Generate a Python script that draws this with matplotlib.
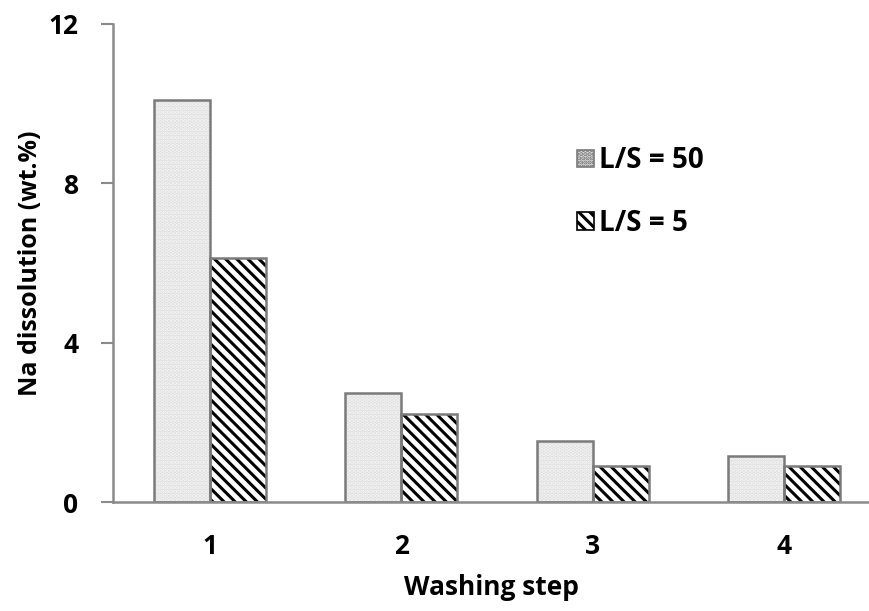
import matplotlib
matplotlib.use("Agg")
import matplotlib.pyplot as plt
import numpy as np
from matplotlib.patches import Patch

steps = ["1", "2", "3", "4"]
ls50 = [10.1, 2.75, 1.53, 1.17]
ls5 = [6.13, 2.22, 0.9, 0.9]
y_ticks = [0, 4, 8, 12]

plt.rcParams['font.family'] = ['Open Sans', 'DejaVu Sans']
plt.rcParams['hatch.linewidth'] = 2.2

fig = plt.figure(figsize=(8.7, 6.11), dpi=100)
ax = fig.add_axes([0.13, 0.178, 0.87, 0.783])

x = np.arange(1, len(steps) + 1)
w = 0.293
gray_face = '#dedede'
edge = '#7a7a7a'

# L/S = 50 : light dotted gray
ax.bar(x - w / 2, ls50, w, color=gray_face, hatch='....', edgecolor='#f4f4f4', linewidth=0, zorder=2)
ax.bar(x - w / 2, ls50, w, fill=False, edgecolor=edge, linewidth=1.8, zorder=3)
# L/S = 5 : black diagonal hatch
ax.bar(x + w / 2, ls5, w, color='white', hatch='\\\\\\', edgecolor='black', linewidth=0, zorder=2)
ax.bar(x + w / 2, ls5, w, fill=False, edgecolor=edge, linewidth=1.8, zorder=3)

ax.set_xlim(0.493, 4.45)
ax.set_ylim(0, 12)
ax.set_yticks(y_ticks)
ax.set_xticks(x)
ax.set_xticklabels(steps)

for s in ['top', 'right']:
    ax.spines[s].set_visible(False)
for s in ['left', 'bottom']:
    ax.spines[s].set_color('#8a8a8a')
    ax.spines[s].set_linewidth(1.8)
    ax.spines[s].set_zorder(4)

ax.tick_params(axis='y', length=9, width=1.5, color='#8a8a8a', labelsize=19, pad=16)
ax.tick_params(axis='x', length=0, labelsize=19, pad=22)
for lab in ax.get_xticklabels() + ax.get_yticklabels():
    lab.set_fontweight('bold')

ax.set_ylabel('Na dissolution (wt.%)', fontsize=18, fontweight='bold', labelpad=4)
ax.set_xlabel('Washing step', fontsize=19, fontweight='bold', labelpad=10)

handles = [
    Patch(facecolor=gray_face, hatch='....', edgecolor=edge, linewidth=1.2),
    Patch(facecolor='white', hatch='\\\\\\', edgecolor='black', linewidth=1.2),
]
leg = ax.legend(handles, ['L/S = 50', 'L/S = 5'], loc='upper left',
                bbox_to_anchor=(0.58, 0.796), frameon=False,
                prop={'size': 20, 'weight': 'bold'}, handlelength=0.6,
                handleheight=0.6, handletextpad=0.2, labelspacing=1.2)

fig.savefig('out.png', dpi=100)
